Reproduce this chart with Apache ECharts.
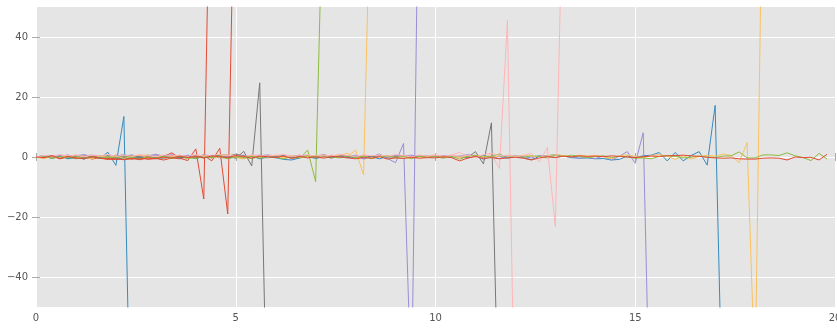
<!DOCTYPE html>
<html>
<head>
<meta charset="utf-8">
<script src="https://cdn.jsdelivr.net/npm/echarts@6/dist/echarts.min.js"></script>
<style>
  html, body { margin: 0; padding: 0; background: #fff; }
  #chart { width: 837px; height: 329px; }
</style>
</head>
<body>
<div id="chart"></div>
<script>
// x sample points (step 0.2)
const xs = [
  0, 0.2, 0.4, 0.6, 0.8, 1, 1.2, 1.4, 1.6, 1.8,
  2, 2.2, 2.4, 2.6, 2.8, 3, 3.2, 3.4, 3.6, 3.8,
  4, 4.2, 4.4, 4.6, 4.8, 5, 5.2, 5.4, 5.6, 5.8,
  6, 6.2, 6.4, 6.6, 6.8, 7, 7.2, 7.4, 7.6, 7.8,
  8, 8.2, 8.4, 8.6, 8.8, 9, 9.2, 9.4, 9.6, 9.8,
  10, 10.2, 10.4, 10.6, 10.8, 11, 11.2, 11.4, 11.6, 11.8,
  12, 12.2, 12.4, 12.6, 12.8, 13, 13.2, 13.4, 13.6, 13.8,
  14, 14.2, 14.4, 14.6, 14.8, 15, 15.2, 15.4, 15.6, 15.8,
  16, 16.2, 16.4, 16.6, 16.8, 17, 17.2, 17.4, 17.6, 17.8,
  18, 18.2, 18.4, 18.6, 18.8, 19, 19.2, 19.4, 19.6, 19.8
]

const red1 = [
  0, 0.3, -0.2, 0.5, -0.4, 0.2, -0.6, 0.4, -0.3, -0.7,
  -0.5, -0.8, -0.4, -0.9, -0.3, -0.6, 0.2, 1.4, -0.4, -1.2,
  2.7, -14, 130
]
const blue1 = [
  0, 0.4, -0.3, 0.6, -0.5, 0.2, -0.7, 0.3, -0.4, 1.6,
  -2.8, 13.5, -115
]
const purple1 = [
  0, -0.3, 0.5, 0.2, 0.7, -0.2, 0.4, 0.6, -0.1, 0.5,
  0.3, 0.8, 0.1, 0.4, -0.2, 0.6, 0.2, 0.7, 0.3, 0.5,
  0.1, 0.6, -0.3, 0.4, 0.2, 0.5, -0.1, 0.3, 0.6, 0.2,
  -0.2, 0.4, 0.1, 0.5, 0.3, -0.3, 0.2, 0.6, 0.1, 0.4,
  -0.2, 0.5, 0.1, 1.0, -0.5, -1.9, 4.5, -80, 120
]
const gray1 = [
  0, 0.2, -0.4, 0.3, 0.1, -0.5, 0.4, -0.2, 0.3, -0.3,
  0.5, 0.1, -0.4, 0.2, 0.6, -0.1, 0.3, -0.5, 0.4, 0.2,
  -0.3, 0.5, 0.2, 0.7, 0.6, -0.5, 1.9, -3.0, 24.7, -100
]
const yellow1 = [
  0, -0.5, 0.2, -0.6, 0.3, -0.2, 0.5, -0.4, 0.1, 0.6,
  -0.3, 0.4, -0.5, 0.2, 0.7, -0.1, 0.3, -0.4, 0.5, 0.2,
  -0.6, 0.3, 0.1, -0.3, 0.6, -0.2, -0.7, 0.4, 0.2, -0.4,
  0.5, -0.2, 0.3, 0.6, -0.3, 0.1, 0.4, -0.5, 0.8, 0.2,
  2.3, -6.0, 106
]
const green1 = [
  0, 0.2, 0.5, -0.3, 0.1, -0.6, -0.2, 0.3, -0.5, 0.2,
  -0.4, 0.1, -0.7, -0.3, 0.2, -0.5, 0.4, -0.2, 0.3, -0.6,
  0.1, -0.3, 0.5, -0.2, -0.4, 0.3, -0.1, -0.5, 0.2, 0.4,
  -0.3, 0.5, -0.2, -0.4, 2.3, -8.2, 98
]
const pink1 = [
  0, 0.4, -0.1, 0.6, 0.2, 0.8, 0.1, 0.5, -0.2, 0.7,
  0.3, 0.6, 0.0, 0.5, 0.2, 0.9, 0.4, 0.1, 0.6, 0.3,
  0.7, 0.2, 0.5, -0.1, 0.4, 0.8, 0.3, 0.6, 0.0, 0.5,
  0.2, 0.7, 0.4, 0.1, 0.6, 0.3, 0.8, 0.2, 0.5, 0.4,
  0.1, 0.6, 0.3, 0.7, 0.2, 0.5, -0.2, 0.4, 0.6, 0.1,
  0.5, 0.3, 0.7, 1.5, 0.2, 0.6, -0.3, 1.0, -3.8, 45.5,
  -101
]
const red2 = [
  0, -0.3, 0.4, -0.6, 0.1, -0.4, 0.3, -0.7, -0.2, -0.5,
  -0.9, -0.4, -0.7, -0.2, -0.8, -0.5, -1.0, -0.3, -0.6, 0.2,
  -0.4, 0.5, -1.3, 2.9, -19, 119
]
const blue2 = [
  0, 0.2, -0.4, 0.3, -0.6, -0.1, -0.5, 0.2, -0.3, 0.4,
  -0.2, -0.6, 0.1, -0.4, 0.3, -0.1, -0.5, 0.2, -0.3, 0.1,
  -0.5, 0.2, -0.2, 0.4, -0.4, 0.1, -0.3, 0.3, -0.6, 0.0,
  -0.2, -0.8, -1.0, -0.3, 0.2, -0.5, 0.1, -0.3, 0.3, -0.2,
  0.2, -0.4, 0.1, -0.6, 0.3, -0.2, 0.4, 0.1, 0.3, 0.5,
  0.4, 0.2, -0.1, 0.3, -0.3, 0.2, 0.5, -0.2, 0.3, -0.4,
  0.1, -0.2, -0.9, 0.2, 0.4, 0.8, 0.3, -0.2, -0.4, -0.3,
  -0.6, -0.5, -1.0, -0.8, 0.3, -0.2, 0.4, 0.6, 1.5, -1.3,
  1.5, -1.3, 0.5, 1.8, -2.7, 17.2, -95
]
const purple2 = [
  0, 0.5, 0.1, 0.6, -0.2, 0.4, 0.8, 0.2, 0.5, -0.1,
  0.6, 0.3, 0.7, 0.1, 0.4, 0.9, 0.2, 0.5, 0.3, 0.6,
  0.2, 0.7, 0.4, 0.0, 0.5, 0.3, 0.6, 0.1, 0.4, 0.7,
  0.3, 0.5, 0.2, 0.6, 0.1, 0.4, 0.7, 0.2, 0.5, 0.3,
  0.6, -0.7, 0.2, 0.4, 0.1, 0.5, 0.3, 0.6, 0.2, 0.4,
  0.1, 0.5, 0.3, 0.2, 0.8, 0.4, -0.8, 0.2, -0.5, 0.3,
  0.4, 0.1, -0.3, 0.5, 0.2, -0.2, 0.3, 0.1, -0.4, -0.2,
  -0.5, 0.3, -1.0, 0.2, 1.8, -2.1, 8.1, -108
]
const gray2 = [
  0, -0.2, 0.3, -0.4, 0.2, 0.5, -0.3, 0.1, 0.4, -0.2,
  0.3, -0.1, 0.5, 0.0, 0.2, -0.4, 0.3, 0.6, -0.2, 0.1,
  0.4, -0.3, 0.2, 0.5, 0.3, 0.9, 0.4, 0.1, -0.2, 0.3,
  0.1, 0.4, -0.3, 0.2, 0.5, 0.0, 0.3, -0.1, 0.4, 0.2,
  -0.2, 0.3, 0.1, 0.5, -0.1, 0.2, 0.4, 0.0, 0.3, 0.1,
  0.4, -0.2, 0.3, 0.1, -0.3, 1.8, -2.3, 11.4, -100
]
const yellow2 = [
  0, -0.4, 0.1, -0.2, 0.5, -0.3, 0.2, -0.6, 0.3, -0.1,
  0.4, -0.5, 0.2, 0.6, -0.2, 0.3, -0.4, 0.1, 0.5, -0.3,
  0.2, 0.6, -0.1, 0.3, 0.7, 0.1, -0.4, 0.5, -0.2, 0.3,
  0.6, 0.0, 0.4, -0.3, 0.2, 0.5, -0.1, 0.3, 0.6, 1.2,
  -0.3, 0.4, -0.6, 0.2, 0.5, -0.2, 0.3, 0.1, -0.4, 0.2,
  0.5, 0.1, 0.3, -0.2, 0.4, 0.6, 0.2, -0.1, 0.3, 0.5,
  0.2, 0.6, 0.3, 0.1, 0.4, 0.8, 0.5, 0.2, 0.6, 0.3,
  0.5, 0.1, -0.6, 0.4, 0.7, 0.2, -0.3, 0.5, 0.8, 0.3,
  -0.8, 0.4, -0.7, 0.2, 0.6, 0.3, 1.0, 0.5, -1.9, 4.8,
  -75, 110
]
const green2 = [
  0, 0.3, -0.5, 0.1, -0.3, 0.4, -0.6, 0.2, -0.4, 0.0,
  -0.3, 0.5, -0.2, -0.6, 0.1, -0.4, 0.3, -0.5, 0.2, -0.1,
  -0.5, 0.2, -0.3, 0.4, -0.6, 0.1, -0.2, 0.3, -0.4, 0.2,
  -0.1, -0.6, 0.2, -0.3, 0.5, -0.2, 0.7, 0.1, -0.3, 0.4,
  -0.2, 0.3, -0.5, 0.1, 0.4, -0.3, 0.2, -0.6, 0.3, -0.2,
  0.1, -0.4, 0.3, -0.7, 0.2, 0.5, -0.1, 0.3, 1.0, -0.2,
  0.3, -0.1, 0.4, 0.2, -0.3, 0.5, 0.1, 0.6, 0.2, -0.2,
  0.1, 0.4, -0.2, 0.3, 0.0, -0.4, -0.3, -0.6, 0.2, 0.4,
  0.2, -0.3, -0.1, 0.3, 0.0, -0.2, 0.3, 0.4, 1.7, -0.3,
  -0.3, 0.7, 0.7, 0.5, 1.4, 0.4, -0.2, -1.2, 1.2, -0.7
]
const pink2 = [
  0, 0.5, 0.2, 0.8, 0.3, 0.6, 0.1, 0.7, 0.4, 0.9,
  0.2, 0.6, 0.3, 0.8, 0.5, 0.1, 0.7, 0.4, 0.6, 0.2,
  0.8, 0.3, 0.5, 0.9, 0.4, 0.6, 0.2, 0.7, 0.5, 0.3,
  0.6, 0.8, 0.2, 0.5, 0.7, 0.3, 0.6, 0.4, 0.9, 0.5,
  0.2, 0.7, 0.4, 0.6, 0.3, 0.8, 0.5, 0.1, 0.6, 0.4,
  0.7, 0.3, 0.5, 0.2, 0.6, -0.2, 0.8, 1.3, 0.4, 0.6,
  0.2, 0.5, 1.2, -1.6, 3.2, -23.2, 99
]
const red3 = [
  0, -0.2, 0.4, -0.5, 0.2, -0.3, -0.6, 0.1, -0.4, -0.8,
  -0.6, -0.9, -0.5, -0.7, -0.3, -0.5, -0.1, -0.4, 0.3, -0.2,
  0.2, -0.3, 0.4, 0.1, -0.2, 0.5, 0.2, -0.4, 0.3, 0.1,
  -0.2, 0.3, -0.5, 0.2, -0.3, 0.1, -0.4, 0.2, 0.0, -0.3,
  -0.6, -0.2, -0.4, 0.1, -0.7, -0.3, -0.5, -0.1, -0.4, -0.2,
  -0.3, 0.1, -0.2, -1.3, -0.4, 0.2, -0.5, -0.2, -0.6, -0.3,
  -0.1, -0.4, -1.0, -0.3, 0.1, -0.2, 0.3, 0.0, 0.4, 0.2,
  0.3, 0.1, 0.4, 0.2, 0.0, -0.2, 0.1, 0.3, 0.2, 0.4,
  0.5, 0.6, 0.4, 0.2, -0.1, -0.3, -0.4, -0.3, -0.6, -0.7,
  -0.7, -0.4, -0.3, -0.4, -1.0, 0.0, -0.2, -0.1, -1.0, 0.9
]

// drawing order = matplotlib color cycle order
const seriesList = [red1, blue1, purple1, gray1, yellow1, green1, pink1,
  red2, blue2, purple2, gray2, yellow2, green2, pink2, red3]
const colors = ['#E24A33', '#348ABD', '#988ED5', '#777777', '#FBC15E', '#8EBA42', '#FFB5B8']

const xTicks = [0, 5, 10, 15, 20]
const yTicks = [-40, -20, 0, 20, 40]

const chart = echarts.init(document.getElementById('chart'))

const tickStyle = { show: true, inside: false, length: 4, lineStyle: { color: '#aaaaaa', width: 1 } }
const labelStyle = { color: '#555555', fontSize: 10, fontFamily: 'DejaVu Sans' }

const option = {
  animation: false,
  color: colors,
  grid: {
    left: 36, right: 2, top: 7, bottom: 22,
    outerBoundsMode: 'none',
    containLabel: false,
    show: true, backgroundColor: '#E5E5E5', borderWidth: 0
  },
  xAxis: [
    {
      type: 'value', min: 0, max: 20, interval: 5,
      axisLine: { show: false },
      axisTick: Object.assign({ customValues: xTicks }, tickStyle),
      axisLabel: Object.assign({ margin: 6, customValues: xTicks, hideOverlap: false }, labelStyle),
      splitLine: { show: true, lineStyle: { color: '#ffffff', width: 1 } }
    },
    {
      type: 'value', min: 0, max: 20, interval: 5, position: 'top',
      axisLine: { show: false },
      axisTick: Object.assign({ customValues: xTicks }, tickStyle),
      axisLabel: { show: false },
      splitLine: { show: false }
    }
  ],
  yAxis: [
    {
      type: 'value', min: -50, max: 50,
      axisLine: { show: false },
      axisTick: Object.assign({ customValues: yTicks }, tickStyle),
      axisLabel: Object.assign({
        margin: 8,
        customValues: yTicks,
        formatter: v => String(v).replace('-', '\u2212')
      }, labelStyle),
      splitLine: { show: true, lineStyle: { color: '#ffffff', width: 1 } }
    },
    {
      type: 'value', min: -50, max: 50, position: 'right',
      axisLine: { show: false },
      axisTick: Object.assign({ customValues: yTicks }, tickStyle),
      axisLabel: { show: false },
      splitLine: { show: false }
    }
  ],
  series: seriesList.map((ys, k) => ({
    type: 'line',
    showSymbol: false,
    symbol: 'none',
    clip: true,
    xAxisIndex: 0,
    yAxisIndex: 0,
    lineStyle: { width: 1, color: colors[k % colors.length] },
    data: ys.map((y, i) => [xs[i], y])
  }))
}

chart.setOption(option)
</script>
</body>
</html>
